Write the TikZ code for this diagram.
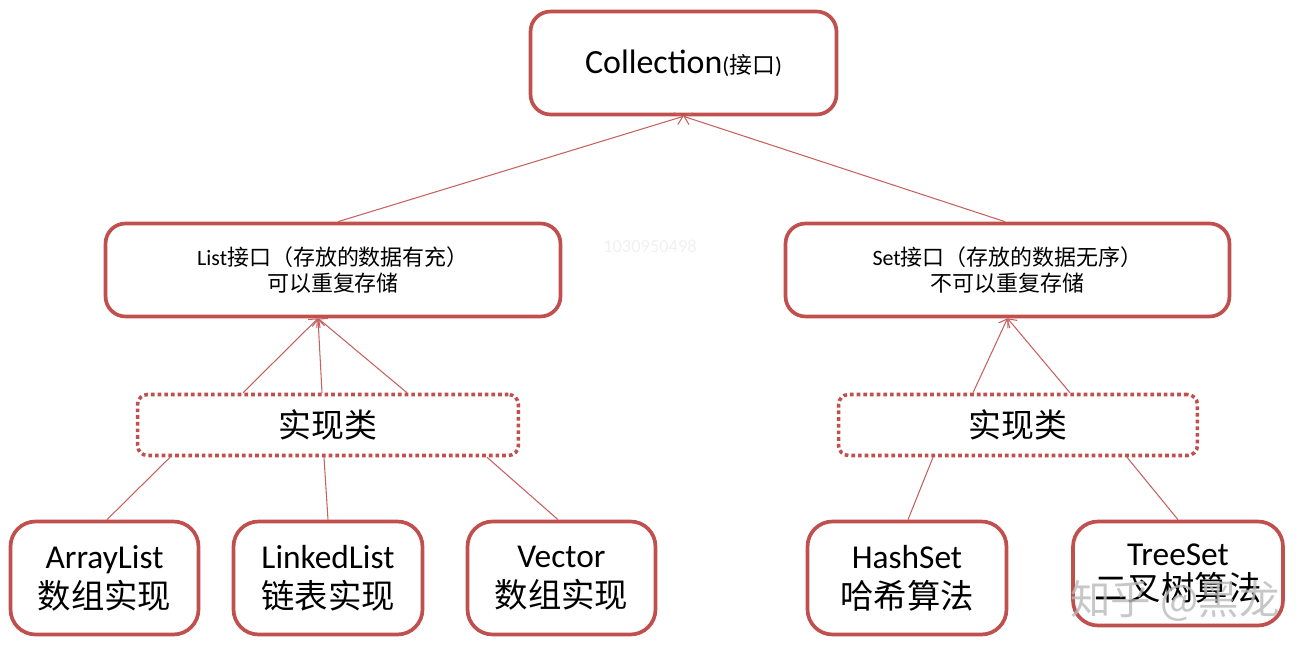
\documentclass[tikz,border=0pt]{standalone}
\usepackage{fontspec}
\setmainfont{Carlito}
\newfontfamily\cjk{Noto Sans CJK SC}
\usepackage{tikz}
\usepackage{xcolor}
\usetikzlibrary{arrows.meta}
\definecolor{boxred}{RGB}{192,80,77}

\begin{document}
\begin{tikzpicture}[
      x=0.02cm, y=-0.02cm,
      every node/.style={inner sep=1mm, align=center},
      solidbox/.style={draw=boxred, line width=2.1pt, rounded corners=0.4cm},
      dotbox/.style={draw=boxred, line width=2pt, dash pattern=on 2.1pt off 1.7pt,
        rounded corners=0.2cm, minimum height=1.22cm, font=\cjk\fontsize{18.7}{22}\selectfont},
      leafbox/.style={solidbox, rounded corners=0.5cm, minimum height=2.26cm,
        font=\fontsize{19}{22.7}\selectfont},
      link/.style={draw=boxred!90, line width=0.6pt},
      uplink/.style={link, -{Straight Barb[length=4pt,width=7pt]}}
    ]
      \useasboundingbox (0,0) rectangle (1312,658);
      % top level
      \node[solidbox, minimum width=6.12cm, minimum height=2.06cm] (coll) at (683.5,63)
          {{\fontsize{19.3}{23}\selectfont Collection}{\fontsize{13}{15}\selectfont({\cjk 接口})}};
      % interfaces
      \node[solidbox, minimum width=9.1cm, minimum height=1.86cm, font=\fontsize{12.5}{14.7}\selectfont] (list) at (333,270)
          {List{\cjk 接口（存放的数据有充）}\\{\cjk 可以重复存储}};
      \node[solidbox, minimum width=8.88cm, minimum height=1.86cm, font=\fontsize{12.5}{14.7}\selectfont] (set) at (1007.5,270)
          {Set{\cjk 接口（存放的数据无序）}\\{\cjk 不可以重复存储}};
      % implementation groups
      \node[dotbox, minimum width=7.62cm] (impll) at (328,425) {实现类};
      \node[dotbox, minimum width=7.18cm] (implr) at (1018,425) {实现类};
      % classes
      \node[leafbox, minimum width=3.76cm] (arr) at (104.5,578) {ArrayList\\{\cjk 数组实现}};
      \node[leafbox, minimum width=3.78cm] (linked) at (328,578) {LinkedList\\{\cjk 链表实现}};
      \node[leafbox, minimum width=3.76cm] (vec) at (561.5,578) {Vector\\{\cjk 数组实现}};
      \node[leafbox, minimum width=3.98cm] (hash) at (907,578) {HashSet\\{\cjk 哈希算法}};
      \node[leafbox, minimum width=4.2cm, minimum height=2.08cm, font=\fontsize{19}{20.4}\selectfont] (tree) at (1178,573.5)
          {TreeSet\\{\cjk 二叉树算法}};
      % watermarks
      \node[text=black!6, font=\fontsize{10.5}{12}\selectfont] (idmark) at (650,246) {1030950498};
      \node[text=gray!55, opacity=0.8, font=\cjk\fontsize{23}{23}\selectfont] (zhmark) at (1175,601) {知乎 @黑龙};

      \draw[uplink] ([xshift=0.1cm]list.north) -- (coll.south);
      \draw[uplink] ([xshift=-0.05cm]set.north) -- (coll.south);
      \foreach \dx in {-1.7, -0.12, 1.58}
        \draw[uplink] ([xshift=\dx cm]impll.north) -- ([xshift=-0.3cm]list.south);
      \foreach \dx in {-0.9, 1.04}
        \draw[uplink] ([xshift=\dx cm]implr.north) -- (set.south);
      \draw[link] ([xshift=-3.16cm]impll.south) -- ([xshift=0.05cm]arr.north);
      \draw[link] ([xshift=-0.08cm]impll.south) -- (linked.north);
      \draw[link] ([xshift=3.18cm]impll.south) -- ([xshift=-0.07cm]vec.north);
      \draw[link] ([xshift=-1.7cm]implr.south) -- ([xshift=0.02cm]hash.north);
      \draw[link] ([xshift=2.18cm]implr.south) -- (tree.north);
    \end{tikzpicture}
\end{document}
